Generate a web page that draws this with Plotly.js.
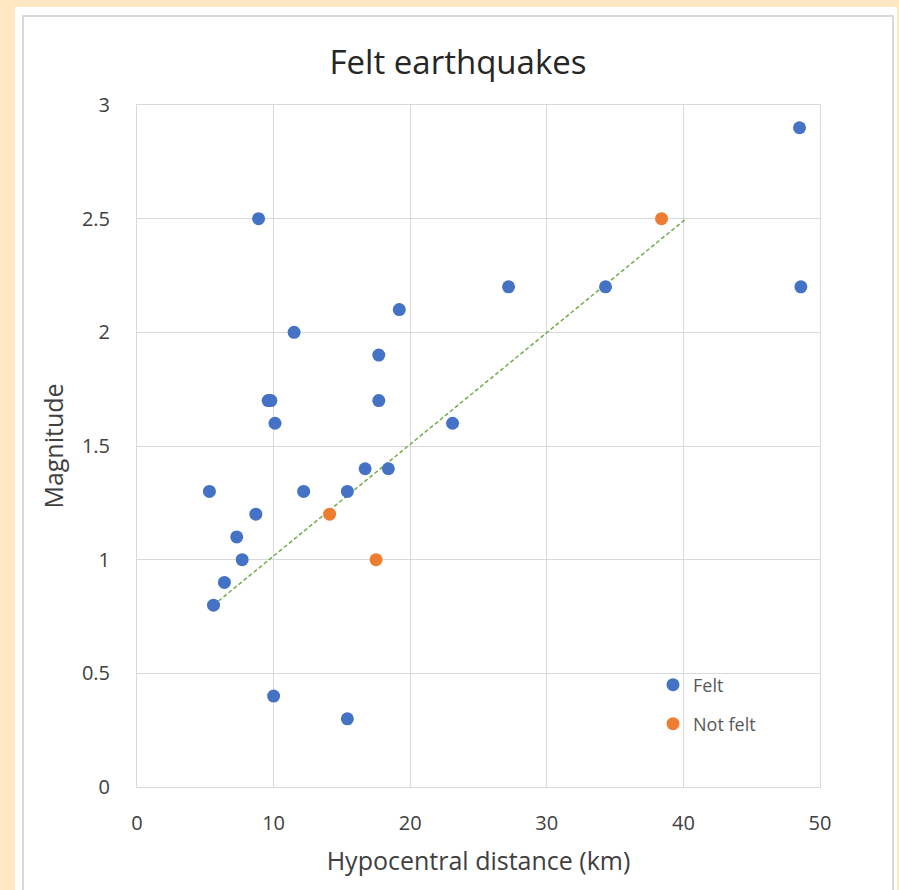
<!DOCTYPE html>
<html>
<head>
<meta charset="utf-8">
<script src="https://cdn.plot.ly/plotly-3.0.1.min.js"></script>
<style>
html,body{margin:0;padding:0;background:#FFE8C2;}
#chart{width:899px;height:890px;}
</style>
</head>
<body>
<div id="chart"></div>
<script>
// Felt earthquakes
const feltDistance = [48.5, 8.9, 27.2, 34.3, 48.6, 19.2, 11.5, 17.7, 9.6, 9.8, 17.7, 10.1, 23.1, 16.7, 18.4, 5.3, 12.2, 15.4, 8.7, 7.3, 7.7, 6.4, 5.6, 10.0, 15.4];
const feltMagnitude = [2.9, 2.5, 2.2, 2.2, 2.2, 2.1, 2.0, 1.9, 1.7, 1.7, 1.7, 1.6, 1.6, 1.4, 1.4, 1.3, 1.3, 1.3, 1.2, 1.1, 1.0, 0.9, 0.8, 0.4, 0.3];
// Not felt earthquakes
const notFeltDistance = [38.4, 14.1, 17.5];
const notFeltMagnitude = [2.5, 1.2, 1.0];
// Trend line endpoints
const trendDistance = [5.6, 40.2];
const trendMagnitude = [0.8, 2.5];

const FONT = '"Open Sans", "Noto Sans", sans-serif';

const traces = [
  {
    x: trendDistance, y: trendMagnitude, type: 'scatter', mode: 'lines',
    line: {color: '#70AD47', width: 1.5, dash: '4px,2.5px'},
    showlegend: false, hoverinfo: 'skip'
  },
  {
    x: feltDistance, y: feltMagnitude, type: 'scatter', mode: 'markers',
    name: 'Felt', marker: {color: '#4472C4', size: 13}, legend: 'legend'
  },
  {
    x: notFeltDistance, y: notFeltMagnitude, type: 'scatter', mode: 'markers',
    name: 'Not felt', marker: {color: '#ED7D31', size: 13}, legend: 'legend2'
  }
];

const layout = {
  width: 899, height: 890,
  paper_bgcolor: '#FFE8C2',
  plot_bgcolor: 'rgba(0,0,0,0)',
  margin: {l: 137, r: 79, t: 105, b: 103, pad: 0},
  font: {family: FONT, color: '#404040'},
  title: {
    text: 'Felt earthquakes',
    font: {family: FONT, size: 33, color: '#262626'},
    xref: 'container', x: 0.5095, xanchor: 'center',
    yref: 'container', y: 0.930, yanchor: 'middle'
  },
  xaxis: {
    range: [0, 50], dtick: 10, tick0: 0,
    showgrid: true, gridcolor: '#D9D9D9', gridwidth: 1,
    showline: true, linecolor: '#D9D9D9', linewidth: 1, mirror: true,
    zeroline: false, ticks: '',
    tickfont: {family: FONT, size: 20, color: '#404040'},
    ticklabelstandoff: 18,
    automargin: false,
    title: {text: 'Hypocentral distance (km)', font: {family: FONT, size: 25, color: '#404040'}, standoff: 17}
  },
  yaxis: {
    range: [0, 3], dtick: 0.5, tick0: 0,
    showgrid: true, gridcolor: '#D9D9D9', gridwidth: 1,
    showline: true, linecolor: '#D9D9D9', linewidth: 1, mirror: true,
    zeroline: false, ticks: '',
    tickfont: {family: FONT, size: 20, color: '#404040'},
    ticklabelstandoff: 22,
    automargin: false,
    title: {text: 'Magnitude', font: {family: FONT, size: 25, color: '#404040'}, standoff: 11}
  },
  legend: {
    x: 0.7555, xanchor: 'left', y: 0.1496, yanchor: 'middle',
    bgcolor: 'rgba(0,0,0,0)', borderwidth: 0,
    font: {family: FONT, size: 18, color: '#595959'}
  },
  legend2: {
    x: 0.7555, xanchor: 'left', y: 0.0924, yanchor: 'middle',
    bgcolor: 'rgba(0,0,0,0)', borderwidth: 0,
    font: {family: FONT, size: 18, color: '#595959'}
  },
  shapes: [
    {type: 'rect', xref: 'paper', yref: 'paper', x0: -0.1786, x1: 1.1127, y0: -0.2, y1: 1.1437,
     fillcolor: '#FFFFFF', line: {width: 0}, layer: 'below'},
    {type: 'rect', xref: 'paper', yref: 'paper', x0: -0.1669, x1: 1.1069, y0: -0.2, y1: 1.1305,
     fillcolor: 'rgba(0,0,0,0)', line: {color: '#D9D9D9', width: 2}, layer: 'below'}
  ],
  hovermode: 'closest'
};

Plotly.newPlot('chart', traces, layout, {displayModeBar: false, staticPlot: true});
</script>
</body>
</html>
